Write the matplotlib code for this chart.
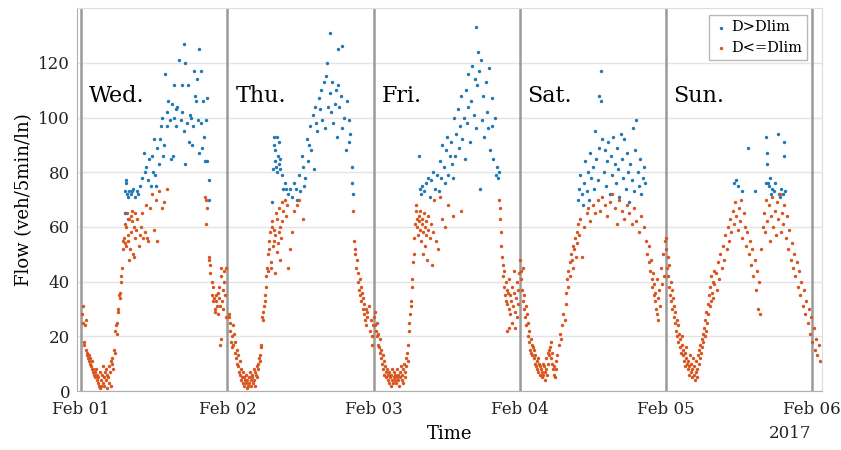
import numpy as np
import matplotlib
matplotlib.use('Agg')
import matplotlib.pyplot as plt

# flow readings per day: (hour of day, veh/5min/ln)
# lo = D<=Dlim (orange), hi = D>Dlim (blue)
wed_lo = [(0.1,28),(0.2,31),(0.3,25),(0.4,18),(0.5,17),(0.6,24),(0.7,26),(0.8,15),(0.9,13),(1.0,14),
          (1.1,12),(1.2,11),(1.3,13),(1.4,10),(1.5,12),(1.6,9),(1.7,8),(1.8,11),(1.9,7),(2.0,8),
          (2.1,6),(2.2,7),(2.3,5),(2.4,8),(2.5,4),(2.6,6),(2.7,3),(2.8,5),(2.9,2),(3.0,7),
          (3.1,1),(3.2,4),(3.3,2),(3.4,6),(3.5,3),(3.6,9),(3.7,5),(3.8,2),(3.9,7),(4.0,4),
          (4.1,8),(4.2,6),(4.3,1),(4.4,5),(4.5,3),(4.6,9),(4.7,7),(4.8,11),(4.9,2),(5.0,12),
          (5.1,10),(5.2,8),(5.4,15),(5.5,14),(5.6,22),(5.7,24),(5.8,21),(5.9,25),(6.0,29),(6.1,30),
          (6.2,35),(6.3,34),(6.4,36),(6.5,40),(6.6,42),(6.7,45),(6.8,52),(6.9,55),(7.0,56),(7.1,61),
          (7.2,54),(7.3,53),(7.4,60),(7.5,65),(7.6,57),(7.7,55),(7.8,63),(7.9,48),(8.0,52),(8.1,64),
          (8.2,58),(8.3,66),(8.4,62),(8.5,50),(8.6,60),(8.7,49),(8.8,65),(8.9,56),(9.0,59),(9.2,63),
          (9.4,53),(9.6,57),(9.8,60),(10.0,65),(10.2,56),(10.4,58),(10.6,68),(10.8,56),(11.0,55),(11.3,67),
          (11.6,72),(11.9,59),(12.2,70),(12.5,55),(12.8,73),(13.2,67),(13.6,69),(14.0,74),
          (20.4,71),(20.5,70),(20.6,67),(20.5,61),(20.9,49),(21.0,48),(21.1,46),(21.2,43),(21.4,40),(21.5,35),
          (21.6,38),(21.7,33),(21.8,34),(21.9,30),(22.0,29),(22.1,33),(22.2,35),(22.3,31),(22.4,36),(22.5,28),
          (22.6,34),(22.7,38),(22.8,31),(22.9,42),(23.0,45),(23.1,33),(23.2,37),(23.3,30),(23.4,44),(23.5,40),
          (23.6,35),(23.7,45),(23.8,27),(22.8,17),(23.0,19)]
wed_hi = [(7.1,65),(7.2,73),(7.3,76),(7.4,77),(7.5,72),(7.6,71),(7.7,63),(7.9,73),(8.1,72),(8.3,73),
          (8.5,74),(8.8,71),(9.1,73),(9.3,72),(9.6,75),(10.0,78),(10.3,87),(10.5,80),(10.7,82),(11.0,77),
          (11.2,85),(11.4,75),(11.6,86),(11.8,80),(12.0,92),(12.1,79),(12.3,75),(12.5,89),(12.7,83),(12.9,92),
          (13.1,97),(13.3,100),(13.4,86),(13.6,90),(13.8,116),(14.0,97),(14.1,102),(14.3,106),(14.5,99),(14.7,85),
          (14.9,105),(15.0,86),(15.2,112),(15.3,100),(15.5,97),(15.6,103),(15.8,104),(16.0,121),(16.8,127),(16.3,99),
          (16.5,102),(16.6,112),(16.8,95),(17.0,120),(17.1,83),(17.3,98),(17.5,112),(17.7,91),(17.8,101),(18.0,100),
          (18.2,90),(18.3,97),(18.5,117),(18.7,108),(18.8,106),(19.0,114),(19.1,99),(19.3,125),(19.4,87),(19.6,117),
          (19.7,98),(19.9,89),(20.0,106),(20.1,93),(20.3,84),(20.5,99),(20.6,107),(20.7,84),(20.9,77),(21.0,70)]

thu_lo = [(0.2,27),(0.3,28),(0.4,22),(0.5,25),(0.6,18),(0.7,16),(0.8,20),(0.9,24),(1.0,17),(1.1,21),
          (1.2,14),(1.3,18),(1.4,12),(1.5,15),(1.6,10),(1.7,13),(1.8,9),(1.9,7),(2.0,11),(2.1,6),
          (2.2,8),(2.3,4),(2.4,5),(2.5,3),(2.6,7),(2.7,2),(2.8,5),(2.9,4),(3.0,6),(3.1,3),
          (3.2,1),(3.3,4),(3.4,2),(3.5,5),(3.6,3),(3.7,7),(3.8,4),(3.9,2),(4.0,6),(4.1,5),
          (4.2,3),(4.3,8),(4.4,4),(4.5,7),(4.6,2),(4.7,6),(4.8,9),(4.9,5),(5.0,10),(5.1,8),
          (5.2,12),(5.3,13),(5.4,11),(5.5,17),(5.6,16),(5.7,27),(5.8,26),(5.9,29),(6.0,31),(6.1,33),
          (6.2,35),(6.3,38),(6.4,42),(6.5,45),(6.6,44),(6.7,50),(6.8,52),(6.9,55),(7.0,58),(7.1,47),
          (7.2,45),(7.3,60),(7.4,62),(7.5,53),(7.6,55),(7.7,59),(7.8,43),(7.9,57),(8.0,65),(8.1,51),
          (8.2,63),(8.3,54),(8.4,58),(8.5,67),(8.6,48),(8.7,60),(8.8,56),(8.9,69),(9.0,62),(9.2,66),
          (9.4,70),(9.6,64),(9.8,68),(10.0,45),(10.3,52),(10.6,58),(11.0,66),(11.4,68),(11.8,70),(12.4,63),
          (20.7,66),(20.8,55),(20.9,52),(21.0,50),(21.2,45),(21.3,48),(21.4,40),(21.5,43),(21.6,37),(21.7,41),
          (21.8,35),(21.9,38),(22.0,33),(22.1,36),(22.2,30),(22.3,34),(22.4,28),(22.5,32),(22.6,26),(22.7,30),
          (22.8,24),(22.9,29),(23.0,27),(23.2,31),(23.4,22),(23.6,26),(23.8,20),(23.9,24),(23.7,17)]
thu_hi = [(7.4,69),(7.5,81),(7.6,90),(7.7,93),(7.8,84),(7.9,88),(8.0,82),(8.1,93),(8.2,80),(8.3,86),
          (8.4,83),(8.5,91),(8.6,85),(8.7,81),(8.9,79),(9.1,74),(9.4,76),(9.7,74),(10.0,72),(10.3,74),
          (10.6,71),(10.9,76),(11.2,74),(11.5,70),(11.8,79),(12.0,73),(12.2,86),(12.4,82),(12.6,75),(12.8,78),
          (13.0,92),(13.2,84),(13.4,90),(13.6,97),(13.8,88),(14.0,101),(14.2,81),(14.4,104),(14.6,98),(14.8,95),
          (15.0,107),(15.2,103),(15.4,110),(15.6,99),(15.8,113),(16.0,96),(16.2,115),(16.4,120),(16.6,104),(16.8,109),
          (17.0,102),(17.2,113),(17.4,98),(16.9,131),(17.7,105),(17.9,110),(18.0,93),(18.2,112),(18.4,104),(18.6,108),
          (18.8,96),(18.1,125),(19.2,100),(18.9,126),(19.5,88),(19.7,106),(19.9,91),(20.0,99),(20.2,94),(20.4,82),
          (20.5,76),(20.6,72)]

fri_lo = [(0.1,27),(0.2,24),(0.3,29),(0.4,22),(0.5,20),(0.6,25),(0.7,17),(0.8,21),(0.9,16),(1.0,19),
          (1.1,14),(1.2,12),(1.3,15),(1.4,10),(1.5,13),(1.6,8),(1.7,11),(1.8,6),(1.9,9),(2.0,7),
          (2.1,5),(2.2,8),(2.3,4),(2.4,6),(2.5,3),(2.6,7),(2.7,5),(2.8,2),(2.9,6),(3.0,4),
          (3.1,8),(3.2,3),(3.3,5),(3.4,7),(3.5,4),(3.6,6),(3.7,3),(3.8,5),(3.9,8),(4.0,4),
          (4.1,6),(4.2,2),(4.3,7),(4.4,5),(4.5,9),(4.6,4),(4.7,6),(4.8,3),(4.9,8),(5.0,10),
          (5.1,5),(5.2,7),(5.3,12),(5.4,9),(5.5,14),(5.6,11),(5.7,17),(5.8,22),(5.9,25),(6.0,28),
          (6.1,33),(6.2,31),(6.3,38),(6.4,41),(6.5,47),(6.6,50),(6.7,56),(6.8,61),(6.9,66),(7.0,68),
          (7.1,63),(7.2,60),(7.3,57),(7.4,64),(7.5,62),(7.6,59),(7.7,66),(7.8,55),(7.9,61),(8.0,63),
          (8.1,58),(8.2,50),(8.3,65),(8.4,60),(8.5,53),(8.6,57),(8.7,62),(8.8,48),(8.9,59),(9.0,64),
          (9.2,56),(9.4,61),(9.6,46),(9.8,58),(10.0,70),(10.3,55),(10.6,52),(11.0,71),(11.3,63),(11.7,60),
          (12.2,68),(13.0,64),(14.3,66),
          (20.6,70),(20.7,67),(20.8,63),(20.9,58),(21.0,53),(21.1,49),(21.2,46),(21.3,42),(21.4,44),(21.5,38),
          (21.6,35),(21.7,40),(21.8,33),(21.9,37),(22.0,32),(22.1,36),(22.2,30),(22.3,41),(22.4,35),(22.5,28),
          (22.6,33),(22.7,38),(22.8,25),(22.9,31),(23.0,44),(23.1,36),(23.2,29),(23.3,23),(23.4,34),(23.5,40),
          (23.6,27),(23.7,37),(23.8,32),(23.9,43),(21.9,22),(22.2,23)]
fri_hi = [(7.4,86),(7.6,74),(7.8,72),(8.0,75),(8.3,73),(8.6,76),(8.9,78),(9.2,71),(9.5,77),(9.8,80),
          (10.1,74),(10.4,79),(10.7,73),(10.9,84),(11.1,78),(11.3,90),(11.5,82),(11.7,76),(11.9,88),(12.1,93),
          (12.3,79),(12.5,86),(12.7,91),(12.9,83),(13.1,78),(13.3,100),(13.4,86),(13.6,94),(13.8,103),(14.0,89),
          (14.2,97),(14.4,108),(14.6,92),(14.8,100),(15.0,85),(15.2,110),(15.3,98),(15.5,104),(15.6,116),(15.8,91),
          (16.0,106),(16.2,119),(16.9,133),(16.5,101),(16.6,114),(16.8,96),(17.0,112),(17.2,124),(17.4,117),(17.5,74),
          (17.7,121),(17.9,99),(18.0,108),(18.2,93),(18.4,113),(18.6,102),(18.8,96),(19.0,118),(19.2,88),(19.4,107),
          (19.5,97),(19.7,85),(19.9,100),(20.1,79),(20.3,82),(20.5,78),(20.6,80)]

sat_lo = [(0.1,48),(0.2,44),(0.3,41),(0.4,37),(0.5,45),(0.6,33),(0.7,30),(0.8,35),(0.9,27),(1.0,31),
          (1.1,24),(1.2,28),(1.3,20),(1.4,25),(1.5,18),(1.6,22),(1.7,15),(1.8,19),(1.9,14),(2.0,17),
          (2.1,13),(2.2,16),(2.3,12),(2.4,15),(2.5,10),(2.6,13),(2.7,9),(2.8,11),(2.9,8),(3.0,12),
          (3.1,7),(3.2,10),(3.3,6),(3.4,9),(3.5,8),(3.6,5),(3.7,7),(3.8,10),(3.9,6),(4.0,9),
          (4.1,7),(4.2,4),(4.3,8),(4.4,12),(4.5,6),(4.6,14),(4.7,10),(4.8,15),(4.9,13),(5.0,16),
          (5.1,12),(5.2,18),(5.3,10),(5.4,14),(5.5,8),(5.6,6),(5.7,9),(5.8,5),(5.9,11),(6.0,8),
          (6.2,13),(6.4,17),(6.6,21),(6.8,19),(7.0,24),(7.2,28),(7.4,26),(7.6,32),(7.7,36),(7.8,41),
          (7.9,38),(8.0,44),(8.2,47),(8.3,42),(8.4,50),(8.6,48),(8.7,53),(8.8,45),(9.0,52),(9.1,56),
          (9.2,49),(9.4,58),(9.5,54),(9.6,61),(9.8,57),(10.0,63),(10.3,49),(10.6,60),(11.0,65),(11.3,67),
          (11.6,62),(12.0,68),(12.4,65),(12.8,70),(13.2,66),(13.6,71),(14.0,68),(14.4,64),(14.8,69),(15.2,72),
          (15.6,67),(16.0,61),(16.4,70),(16.8,66),(17.2,63),(17.6,68),(18.0,65),(18.4,61),(18.8,67),(19.2,62),
          (19.6,58),(20.0,64),(20.4,60),
          (20.8,55),(21.0,50),(21.2,53),(21.3,47),(21.5,44),(21.6,48),(21.7,41),(21.8,38),(21.9,43),(22.0,35),
          (22.1,39),(22.2,33),(22.3,36),(22.4,30),(22.5,41),(22.6,28),(22.7,34),(22.8,26),(22.9,37),(23.0,31),
          (23.2,45),(23.4,39),(23.6,50),(23.8,42),(23.9,55)]
sat_hi = [(9.6,70),(9.8,74),(10.0,79),(10.2,72),(10.4,68),(10.6,76),(10.8,84),(11.0,73),(11.2,80),(11.4,70),
          (11.6,87),(11.8,78),(12.0,82),(12.2,74),(12.4,95),(12.6,85),(12.8,77),(13.0,89),(13.1,108),(13.3,117),
          (13.4,106),(13.6,92),(13.8,80),(14.0,88),(14.2,75),(14.4,84),(14.6,91),(14.8,72),(15.0,86),(15.2,79),
          (15.4,93),(15.6,83),(15.8,76),(16.0,89),(16.2,81),(16.4,71),(16.6,94),(16.8,85),(17.0,78),(17.2,92),
          (17.4,74),(17.6,87),(17.8,80),(18.0,69),(18.2,83),(18.4,77),(18.6,96),(18.8,73),(19.0,88),(19.2,99),
          (19.4,80),(19.6,75),(19.8,85),(20.0,72),(20.2,78),(20.4,82),(20.6,76)]

sun_lo = [(0.0,52),(0.1,56),(0.2,45),(0.3,49),(0.4,42),(0.5,38),(0.6,46),(0.7,35),(0.8,40),(0.9,33),
          (1.0,37),(1.1,30),(1.2,34),(1.3,27),(1.4,31),(1.5,25),(1.6,29),(1.7,22),(1.8,26),(1.9,20),
          (2.0,24),(2.1,18),(2.2,21),(2.3,16),(2.4,19),(2.5,14),(2.6,17),(2.7,20),(2.8,13),(2.9,15),
          (3.0,11),(3.1,14),(3.2,9),(3.3,12),(3.4,16),(3.5,10),(3.6,8),(3.7,11),(3.8,6),(3.9,9),
          (4.0,13),(4.1,7),(4.2,10),(4.3,5),(4.4,8),(4.5,12),(4.6,6),(4.7,9),(4.8,4),(4.9,7),
          (5.0,11),(5.1,5),(5.2,8),(5.3,13),(5.4,10),(5.5,15),(5.6,12),(5.7,17),(5.8,14),(5.9,19),
          (6.0,16),(6.1,21),(6.2,18),(6.3,23),(6.4,20),(6.5,26),(6.6,22),(6.7,29),(6.8,25),(6.9,32),
          (7.0,28),(7.1,35),(7.2,31),(7.3,38),(7.4,33),(7.5,42),(7.6,36),(7.7,40),(7.8,34),(7.9,44),
          (8.0,39),(8.2,43),(8.4,37),(8.6,47),(8.8,41),(9.0,50),(9.2,45),(9.4,53),(9.6,48),(9.8,57),
          (10.0,52),(10.2,60),(10.4,55),(10.6,63),(10.8,58),(11.0,66),(11.2,61),(11.4,69),(11.6,64),(11.8,59),
          (12.0,67),(12.2,62),(12.4,70),(12.6,56),(12.8,65),(13.0,60),(13.2,53),(13.4,58),(13.6,50),(13.8,55),
          (14.0,46),(14.2,52),(14.4,42),(14.6,48),(14.8,37),(15.0,44),(15.2,30),(15.4,40),(15.5,28),(15.7,52),
          (15.9,60),(16.1,65),(16.3,58),(16.5,70),(16.7,62),(16.9,68),(17.1,55),(17.3,64),(17.5,71),(17.7,60),
          (17.9,66),(18.1,57),(18.3,69),(18.5,63),(18.7,72),(18.9,58),(19.1,65),(19.3,61),(19.5,68),(19.7,56),
          (19.9,64),(20.1,52),(20.3,59),(20.5,48),(20.7,54),(20.9,45),(21.1,50),(21.3,42),(21.5,47),(21.7,38),
          (21.9,44),(22.1,35),(22.3,40),(22.5,31),(22.7,37),(22.9,28),(23.1,33),(23.3,25),(23.5,30),(23.7,21),
          (23.9,27),(24.1,18),(24.3,23),(24.5,15),(24.7,19),(24.9,13),(25.1,17),(25.3,11)]
sun_hi = [(11.2,76),(11.5,77),(11.9,75),(12.5,73),(13.5,89),(14.6,73),(16.4,93),(16.6,87),(16.7,83),(16.5,76),
          (16.8,76),(17.0,75),(17.1,78),(17.3,72),(17.5,74),(17.8,73),(18.0,76),(18.4,94),(18.6,72),(18.8,71),
          (19.0,74),(19.2,72),(19.4,91),(19.5,86),(19.6,73)]

days = ['Wed.', 'Thu.', 'Fri.', 'Sat.', 'Sun.']
lo_sets = [wed_lo, thu_lo, fri_lo, sat_lo, sun_lo]
hi_sets = [wed_hi, thu_hi, fri_hi, sat_hi, sun_hi]
tick_labels = ['Feb 01', 'Feb 02', 'Feb 03', 'Feb 04', 'Feb 05', 'Feb 06']

blue = '#1f78b4'
orange = '#d9541e'

plt.rcParams['font.family'] = ['DejaVu Serif']

fig = plt.figure(figsize=(8.41, 4.5), dpi=100)
ax = fig.add_axes([0.0916, 0.131, 0.886, 0.851])

lo_x, lo_y, hi_x, hi_y = [], [], [], []
for d in range(5):
    for h, v in lo_sets[d]:
        lo_x.append(24*d + h); lo_y.append(v)
    for h, v in hi_sets[d]:
        hi_x.append(24*d + h); hi_y.append(v)

ax.scatter(hi_x, hi_y, s=6, color=blue, linewidths=0, label='D>Dlim', zorder=3)
ax.scatter(lo_x, lo_y, s=6, color=orange, linewidths=0, label='D<=Dlim', zorder=3)

for d in range(6):
    ax.axvline(24*d, color='#9a9a9a', lw=1.8, zorder=2)
for d in range(5):
    ax.text(24*d + 1.3, 108, days[d], fontsize=16, va='center', ha='left')

ax.set_xlim(-0.7, 121.7)
ax.set_ylim(0, 140)
ax.set_yticks(np.arange(0, 121, 20))
ax.set_xticks(np.arange(0, 121, 24))
ax.set_xticklabels(tick_labels)
ax.tick_params(length=0, labelsize=12, colors='#222222', pad=7)
ax.tick_params(axis='y', pad=5)
ax.yaxis.grid(True, color='#e4e4e4', lw=1, zorder=0)
ax.set_axisbelow(True)
for s in ax.spines.values():
    s.set_color('#dddddd')
ax.spines['left'].set_color('#b0b0b0')
ax.spines['bottom'].set_color('#b0b0b0')

ax.set_xlabel('Time', fontsize=13, labelpad=5)
ax.set_ylabel('Flow (veh/5min/ln)', fontsize=13)
ax.text(116.5, -0.112, '2017', transform=ax.get_xaxis_transform(), fontsize=12,
        ha='center', va='center', color='#222222')

leg = ax.legend(loc='upper right', fontsize=10.5, markerscale=1.0, handletextpad=0.2,
                borderpad=0.35, labelspacing=0.45, handlelength=1.0, fancybox=False,
                framealpha=1, bbox_to_anchor=(0.99, 1.0))
leg.get_frame().set_edgecolor('#b8b8b8')

fig.savefig('out.png', dpi=100)
